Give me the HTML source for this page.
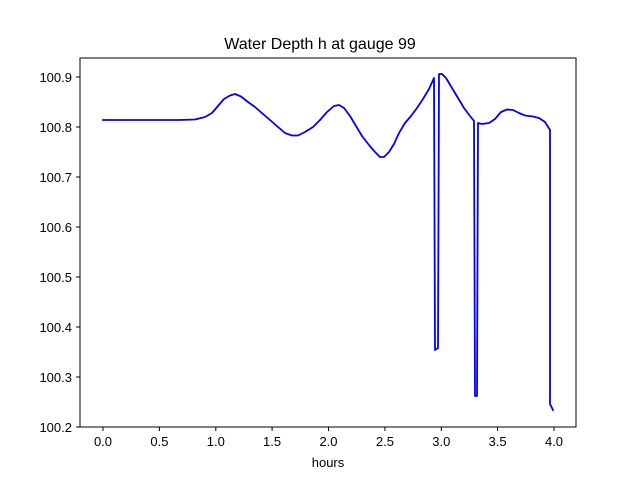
<!DOCTYPE html>
<html><head><style>body{margin:0;background:#fff}</style></head><body>
<svg width="640" height="480" xmlns="http://www.w3.org/2000/svg" font-family="Liberation Sans, DejaVu Sans, sans-serif">
<rect x="80" y="58" width="496" height="369" fill="#fff" stroke="#000" stroke-width="1"/>
<polyline fill="none" stroke="#0000ff" stroke-width="1.8" stroke-linejoin="round" stroke-linecap="square" points="103,120 180,120 195,119.5 205,117 212,113 218,106 224,99 230,95.5 235,94 241,96.5 248,102 255,107 263,114 270,120 278,127 285,133 292,135.5 298,135.5 305,132 313,127 320,120 327,112 334,106 339,105 344,108 350,116 356,126 362,136 369,145 375,152 380,157 384,157 389,152 394,144 399,133 405,123 411,116 417,108 423,99 429,89 434,78 435,350 438,348 439,74 442,74 446,78 452,88 458,98 464,108 470,116 474,121 475,396 477,396 478,123 482,124 489,123 495,119 501,112 507,109.5 513,110 519,113 525,115.5 533,116.5 539,118 545,122 550,130 550,404 553,410"/>
<g font-size="13" fill="#000">
<text x="320" y="49" text-anchor="middle" font-size="16">Water Depth h at gauge 99</text>
<g stroke="#000"><line x1="103" y1="427" x2="103" y2="431"/><line x1="159.4" y1="427" x2="159.4" y2="431"/><line x1="215.8" y1="427" x2="215.8" y2="431"/><line x1="272.1" y1="427" x2="272.1" y2="431"/><line x1="328.5" y1="427" x2="328.5" y2="431"/><line x1="384.9" y1="427" x2="384.9" y2="431"/><line x1="441.3" y1="427" x2="441.3" y2="431"/><line x1="497.6" y1="427" x2="497.6" y2="431"/><line x1="554" y1="427" x2="554" y2="431"/>
<line x1="76" y1="77" x2="80" y2="77"/><line x1="76" y1="127" x2="80" y2="127"/><line x1="76" y1="177" x2="80" y2="177"/><line x1="76" y1="227" x2="80" y2="227"/><line x1="76" y1="277" x2="80" y2="277"/><line x1="76" y1="327" x2="80" y2="327"/><line x1="76" y1="377" x2="80" y2="377"/><line x1="76" y1="427" x2="80" y2="427"/></g>
<g text-anchor="middle"><text x="103" y="446">0.0</text><text x="159.4" y="446">0.5</text><text x="215.8" y="446">1.0</text><text x="272.1" y="446">1.5</text><text x="328.5" y="446">2.0</text><text x="384.9" y="446">2.5</text><text x="441.3" y="446">3.0</text><text x="497.6" y="446">3.5</text><text x="554" y="446">4.0</text><text x="328" y="467">hours</text></g>
<g text-anchor="end"><text x="72" y="82">100.9</text><text x="72" y="132">100.8</text><text x="72" y="182">100.7</text><text x="72" y="232">100.6</text><text x="72" y="282">100.5</text><text x="72" y="332">100.4</text><text x="72" y="382">100.3</text><text x="72" y="432">100.2</text></g>
</g></svg></body></html>
